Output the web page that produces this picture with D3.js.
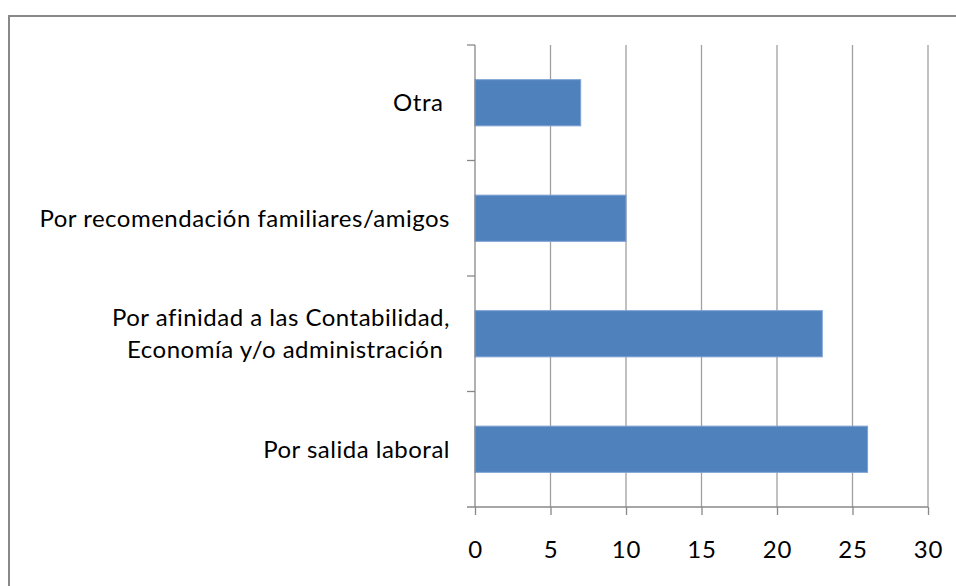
<!DOCTYPE html>
<html>
<head>
<meta charset="utf-8">
<script src="https://cdn.jsdelivr.net/npm/d3@7"></script>
<style>
  body { margin: 0; background: #fff; }
  text { font-family: Lato, sans-serif; fill: #000; white-space: pre; }
</style>
</head>
<body>
<svg id="chart" width="956" height="586"></svg>
<script>
// categories, top to bottom
var categories = ["Otra ", "Por recomendación familiares/amigos",
  "Por afinidad a las Contabilidad,\nEconomía y/o administración ", "Por salida laboral"];
var values = [7, 10, 23, 26];
var xTicks = [0, 5, 10, 15, 20, 25, 30];

var svg = d3.select("#chart");

// outer frame
svg.append("rect")
  .attr("x", 9).attr("y", 16)
  .attr("width", 960).attr("height", 600)
  .attr("fill", "none").attr("stroke", "#888").attr("stroke-width", 2);

var x = d3.scaleLinear().domain([0, 30]).range([475, 928]);
var y = d3.scaleBand().domain(categories).range([45, 507]).paddingInner(0.6).paddingOuter(0.3);

// gridlines
svg.append("g").selectAll("line")
  .data(xTicks.slice(1))
  .enter().append("line")
  .attr("x1", d => x(d)).attr("x2", d => x(d))
  .attr("y1", 45).attr("y2", 507)
  .attr("stroke", "#a0a0a0").attr("stroke-width", 1.3);

// bars
svg.append("g").selectAll("rect")
  .data(values)
  .enter().append("rect")
  .attr("x", x(0))
  .attr("y", (d, i) => y(categories[i]))
  .attr("width", d => x(d) - x(0))
  .attr("height", y.bandwidth())
  .attr("fill", "#4f81bd")
  .attr("stroke", "#7fa3d3").attr("stroke-width", 1);

// y axis with boundary ticks
var yAxis = svg.append("g");
yAxis.append("line")
  .attr("x1", 475).attr("x2", 475).attr("y1", 45).attr("y2", 507)
  .attr("stroke", "#888").attr("stroke-width", 1.3);
var step = (507 - 45) / categories.length;
yAxis.selectAll(".tk")
  .data(d3.range(categories.length))
  .enter().append("line")
  .attr("x1", 467).attr("x2", 475)
  .attr("y1", d => 45 + d * step).attr("y2", d => 45 + d * step)
  .attr("stroke", "#888").attr("stroke-width", 1.3);

// category labels
svg.append("g").selectAll("text")
  .data(categories)
  .enter().append("text")
  .attr("text-anchor", "end")
  .attr("font-size", 24)
  .attr("letter-spacing", 0.5)
  .each(function (d) {
    var lines = d.split("\n");
    var cy = y(d) + y.bandwidth() / 2;
    var el = d3.select(this);
    lines.forEach(function (l, k) {
      el.append("tspan")
        .attr("x", 450)
        .attr("y", cy + (k - (lines.length - 1) / 2) * 32)
        .attr("dy", "0.35em")
        .text(l);
    });
  });

// x axis
var xAxis = d3.axisBottom(x).tickValues(xTicks).tickSize(8).tickSizeOuter(0).tickPadding(26);
var gx = svg.append("g").attr("transform", "translate(0,507)").call(xAxis);
gx.select(".domain").remove();
gx.append("line").attr("x1", 467).attr("x2", 928).attr("stroke", "#888").attr("stroke-width", 1.3);
gx.selectAll(".tick line").attr("stroke", "#888").attr("stroke-width", 1.3);
gx.selectAll(".tick text").attr("font-size", 24).attr("letter-spacing", 0.8)
  .attr("font-family", "Lato, sans-serif").attr("fill", "#000");
</script>
</body>
</html>
